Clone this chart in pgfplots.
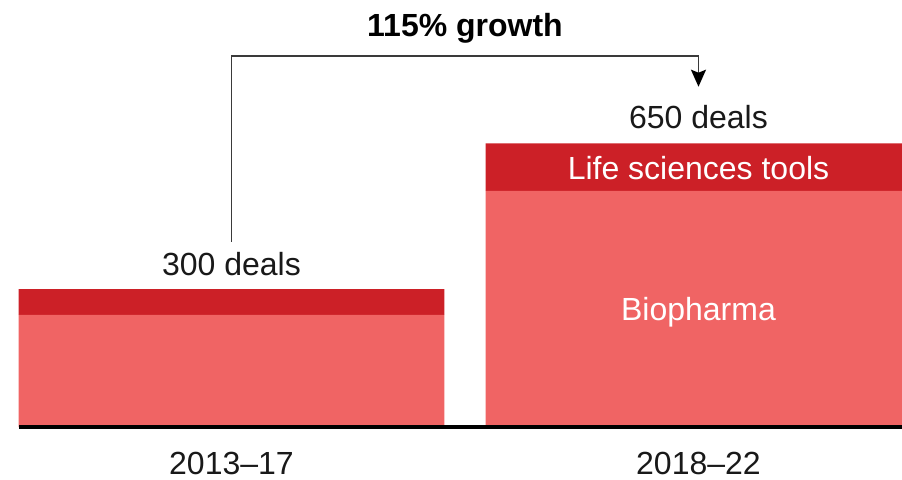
\documentclass[border=0pt]{standalone}
\usepackage{fontspec}
\setmainfont{Liberation Sans}
\usepackage{pgfplots}
\pgfplotsset{compat=1.18}
\usetikzlibrary{arrows.meta}
\definecolor{bio}{HTML}{F06464}
\definecolor{lst}{HTML}{CC2027}
\definecolor{arrowgray}{HTML}{3A3A3A}
\begin{document}
\begin{tikzpicture}
\begin{axis}[
  scale only axis,
  width=902pt, height=480pt,
  xmin=-0.4957, xmax=1.4358,
  ymin=-121.4, ymax=978.3,
  hide axis,
  ybar stacked,
  bar width=0.912,
  clip=true,
  after end axis/.append code={
    % baseline
    \draw[line width=4pt, black] (axis cs:-0.455,0) -- (axis cs:1.4358,0);
    % arrow
    \draw[line width=1.8pt, arrowgray, -{Stealth[length=17pt,width=15pt,inset=3pt,color=black]}]
      (axis cs:0,424.5) -- (axis cs:0,850.6) -- (axis cs:1.0,850.6) -- (axis cs:1.0,779.6);
    % texts
    \node[anchor=base, font=\fontsize{32}{38}\selectfont\bfseries, text=black] at (axis cs:0.5,895.8) {115\% growth};
    \node[anchor=base, font=\fontsize{32}{38}\selectfont, text=black!90] at (axis cs:0,346) {300 deals};
    \node[anchor=base, font=\fontsize{32}{38}\selectfont, text=black!90] at (axis cs:1,685) {650 deals};
    \node[anchor=base, font=\fontsize{32}{38}\selectfont, text=white] at (axis cs:1,568) {Life sciences tools};
    \node[anchor=base, font=\fontsize{32}{38}\selectfont, text=white] at (axis cs:1,243) {Biopharma};
    \node[anchor=base, font=\fontsize{32}{38}\selectfont, text=black!90] at (axis cs:0,-107.7) {2013–17};
    \node[anchor=base, font=\fontsize{32}{38}\selectfont, text=black!90] at (axis cs:1,-107.7) {2018–22};
  },
]
% Biopharma
\addplot[fill=bio, draw=none] coordinates {(0,257) (1,541)};
% Life sciences tools
\addplot[fill=lst, draw=none] coordinates {(0,59) (1,109)};
\end{axis}
\pgfresetboundingbox
\path[use as bounding box] (current axis.south west) rectangle (current axis.north east);
\end{tikzpicture}
\end{document}
